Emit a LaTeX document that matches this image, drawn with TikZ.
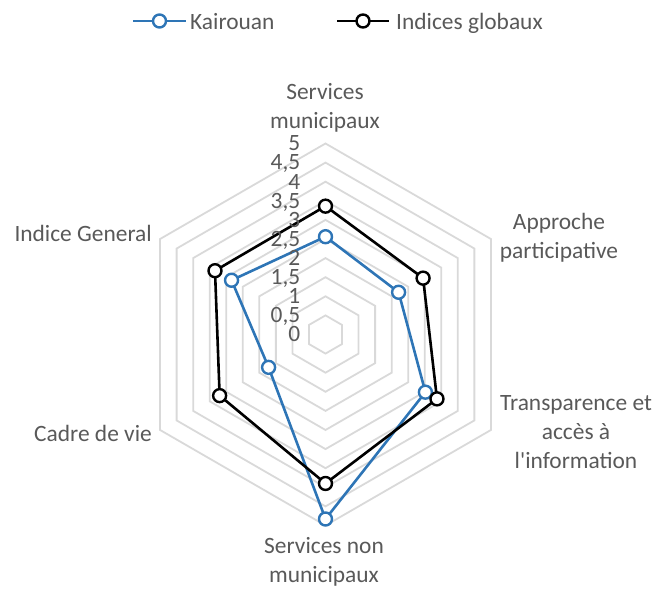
\documentclass[tikz,border=0pt]{standalone}
\usepackage{fontspec}
\setmainfont{Carlito}[Ligatures=TeXOff]
\definecolor{kblue}{HTML}{2E75B6}
\definecolor{labelgray}{HTML}{595959}
\definecolor{gridgray}{HTML}{D9D9D9}
\begin{document}
\begin{tikzpicture}[x=1pt,y=1pt,
  lbl/.style={text=labelgray, font=\fontsize{23.4}{29}\selectfont, inner sep=0pt, align=center},
  gridline/.style={draw=gridgray, line width=1.8pt, line join=miter},
  ser/.style={line width=2.6pt, line join=round},
  mk/.style={circle, draw, fill=white, line width=2.4pt, minimum size=13pt, inner sep=0pt},
]
\useasboundingbox (0,0) rectangle (657,589);
\def\U{38.2}
\begin{scope}[shift={(325.5,254.5)}]
  \foreach \i in {1,...,10}{
    \draw[gridline] (90:\i*\U/2) -- (30:\i*\U/2) -- (-30:\i*\U/2) -- (-90:\i*\U/2) -- (-150:\i*\U/2) -- (150:\i*\U/2) -- cycle;
  }
  % Kairouan
  \coordinate (k0) at (90:2.56*\U);
  \coordinate (k1) at (30:2.21*\U);
  \coordinate (k2) at (-30:3.02*\U);
  \coordinate (k3) at (-90:4.83*\U);
  \coordinate (k4) at (-150:1.72*\U);
  \coordinate (k5) at (150:2.84*\U);
  % Indices globaux
  \coordinate (g0) at (90:3.36*\U);
  \coordinate (g1) at (30:2.95*\U);
  \coordinate (g2) at (-30:3.37*\U);
  \coordinate (g3) at (-90:3.9*\U);
  \coordinate (g4) at (-150:3.2*\U);
  \coordinate (g5) at (150:3.34*\U);
\end{scope}
\draw[ser, kblue] (k0) -- (k1) -- (k2) -- (k3) -- (k4) -- (k5) -- cycle;
\draw[ser, black] (g0) -- (g1) -- (g2) -- (g3) -- (g4) -- (g5) -- cycle;
\foreach \p in {0,...,5}{
  \node[mk, draw=kblue] (mk\p) at (k\p) {};
  \node[mk, draw=black] (mg\p) at (g\p) {};
}
% tick labels
\foreach \v/\t in {0/0, 0.5/{0,5}, 1/1, 1.5/{1,5}, 2/2, 2.5/{2,5}, 3/3, 3.5/{3,5}, 4/4, 4.5/{4,5}, 5/5}{
  \node[lbl, anchor=base east] (t\v) at (300.5, 254.5+\v*\U-7.4) {\t};
}
% axis labels (base = baseline of last line)
\node[lbl, anchor=base] (a0) at (325, 589-128.3) {Services\\municipaux};
\node[lbl, anchor=base] (a1) at (559, 589-258.5) {Approche\\participative};
\node[lbl, anchor=base] (a2) at (576, 589-468.5) {Transparence et\\accès à\\l'information};
\node[lbl, anchor=base] (a3) at (324, 589-583) {Services non\\municipaux};
\node[lbl, anchor=base east] (a4) at (152, 589-441.7) {Cadre de vie};
\node[lbl, anchor=base east] (a5) at (152, 589-241.7) {Indice General};
% legend
\coordinate (lb1) at (133,568);
\coordinate (lb2) at (186,568);
\draw[ser, kblue] (lb1) -- (lb2);
\node[mk, draw=kblue] (lbm) at (159.5,568) {};
\node[lbl, anchor=base west] (lbt) at (190,559.7) {Kairouan};
\coordinate (lg1) at (337,568);
\coordinate (lg2) at (389,568);
\draw[ser, black] (lg1) -- (lg2);
\node[mk, draw=black] (lgm) at (363,568) {};
\node[lbl, anchor=base west] (lgt) at (396,559.7) {Indices globaux};
\end{tikzpicture}
\end{document}
